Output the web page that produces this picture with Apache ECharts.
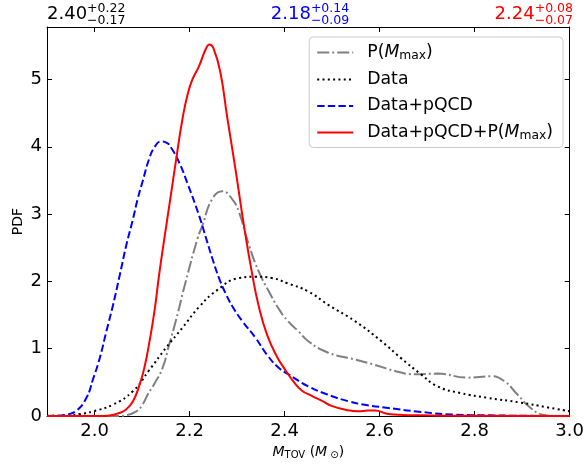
<!DOCTYPE html>
<html>
<head>
<meta charset="utf-8">
<script src="https://cdn.jsdelivr.net/npm/echarts@6/dist/echarts.min.js"></script>
<style>html,body{margin:0;padding:0;background:#fff}#c{width:587px;height:465px}</style>
</head>
<body>
<div id="c"></div>
<script>
// ---- data ----
const seriesNames = ['P(Mmax)', 'Data', 'Data+pQCD', 'Data+pQCD+P(Mmax)'];
const xTicks = [2.0, 2.2, 2.4, 2.6, 2.8, 3.0];
const yTicks = [0, 1, 2, 3, 4, 5];

const pMmax = [
 [1.9,0],[2.05,0],[2.065,0.01],[2.088,0.07],[2.101,0.17],[2.112,0.32],[2.126,0.48],[2.143,0.71],
 [2.157,1.06],[2.171,1.41],[2.192,2.0],[2.217,2.64],[2.227,2.83],[2.248,3.23],[2.269,3.34],
 [2.29,3.22],[2.304,3.03],[2.325,2.54],[2.346,2.14],[2.367,1.85],[2.387,1.60],[2.407,1.41],
 [2.429,1.26],[2.45,1.11],[2.492,0.94],[2.548,0.84],[2.59,0.76],[2.632,0.67],[2.673,0.62],
 [2.722,0.63],[2.785,0.57],[2.834,0.59],[2.862,0.52],[2.89,0.32],[2.918,0.12],[2.946,0.015],
 [2.97,0],[3.0,0]
];
const dataOnly = [
 [1.9,0.002],[1.941,0.008],[1.97,0.03],[1.997,0.07],[2.039,0.17],[2.081,0.37],[2.115,0.68],
 [2.15,1.01],[2.185,1.31],[2.22,1.62],[2.258,1.87],[2.304,2.05],[2.339,2.07],[2.373,2.05],
 [2.407,1.97],[2.45,1.85],[2.492,1.65],[2.548,1.41],[2.604,1.11],[2.645,0.86],[2.687,0.62],
 [2.722,0.44],[2.771,0.34],[2.827,0.27],[2.896,0.20],[2.952,0.13],[3.0,0.07]
];
const dataPqcd = [
 [1.9,0],[1.925,0.005],[1.941,0.02],[1.962,0.08],[1.983,0.27],[1.997,0.55],[2.011,0.86],
 [2.025,1.26],[2.039,1.65],[2.053,2.09],[2.067,2.54],[2.081,2.93],[2.091,3.23],[2.101,3.48],
 [2.115,3.82],[2.126,3.99],[2.14,4.08],[2.152,4.06],[2.161,3.99],[2.178,3.77],[2.196,3.45],
 [2.22,2.98],[2.234,2.66],[2.248,2.34],[2.262,2.05],[2.276,1.82],[2.29,1.63],[2.311,1.41],
 [2.339,1.16],[2.363,0.91],[2.387,0.72],[2.408,0.62],[2.45,0.44],[2.49,0.32],[2.534,0.22],
 [2.575,0.16],[2.618,0.12],[2.687,0.06],[2.757,0.02],[2.827,0.01],[2.9,0.003],[3.0,0]
];
const dataPqcdPm = [
 [1.9,0],[2.02,0],[2.035,0.01],[2.05,0.04],[2.065,0.09],[2.081,0.22],[2.095,0.47],[2.105,0.72],
 [2.115,1.08],[2.126,1.55],[2.136,2.1],[2.147,2.64],[2.16,3.25],[2.173,3.87],[2.185,4.41],
 [2.196,4.78],[2.206,5.0],[2.22,5.2],[2.234,5.45],[2.242,5.52],[2.251,5.45],[2.265,5.10],
 [2.279,4.45],[2.297,3.65],[2.314,2.85],[2.332,2.1],[2.346,1.62],[2.363,1.21],[2.384,0.88],
 [2.40,0.70],[2.42,0.50],[2.436,0.38],[2.457,0.30],[2.48,0.22],[2.499,0.15],[2.53,0.09],
 [2.555,0.07],[2.575,0.08],[2.59,0.08],[2.618,0.03],[2.65,0.015],[2.687,0.01],[2.75,0.003],[3.0,0]
];

// summary statistics shown above the plot
const statMedian = ['2.40', '2.18', '2.24'];
const statPlus   = ['+0.22', '+0.14', '+0.08'];
const statMinus  = ['\u22120.17', '\u22120.09', '\u22120.07'];
const statColor  = ['#000000', '#0000ff', '#ff0000'];

// ---- layout ----
const W = 587, H = 465;
const G = {left: 47, right: 14, top: 27, bottom: 47};
const FONT = '"DejaVu Sans", sans-serif';

const chart = echarts.init(document.getElementById('c'), null, {renderer: 'canvas', width: W, height: H});

const cv = document.createElement('canvas').getContext('2d');
function tw(t, size) { cv.font = size + 'px ' + FONT; return cv.measureText(t).width; }

const graphics = [];
const plotL = G.left, plotR = W - G.right, plotC = (plotL + plotR) / 2;
const mainSize = 18, smallSize = 12.5;
for (let i = 0; i < 3; i++) {
  const wm = tw(statMedian[i], mainSize);
  const ws = Math.max(tw(statPlus[i], smallSize), tw(statMinus[i], smallSize));
  const total = wm + ws;
  let x0 = i === 0 ? plotL : (i === 1 ? plotC - total / 2 : plotR - total);
  graphics.push({type: 'text', x: x0, y: 14, silent: true,
    style: {text: statMedian[i], font: mainSize + 'px ' + FONT, fill: statColor[i], verticalAlign: 'middle'}});
  graphics.push({type: 'text', x: x0 + wm, y: 8.5, silent: true,
    style: {text: statPlus[i], font: smallSize + 'px ' + FONT, fill: statColor[i], verticalAlign: 'middle'}});
  graphics.push({type: 'text', x: x0 + wm, y: 21, silent: true,
    style: {text: statMinus[i], font: smallSize + 'px ' + FONT, fill: statColor[i], verticalAlign: 'middle'}});
}

const legendRich = {
  i: {fontStyle: 'italic', fontSize: 17.3, fontFamily: FONT, color: '#000'},
  s: {fontSize: 12.3, fontFamily: FONT, color: '#000', verticalAlign: 'bottom', padding: [6, 0, 0, 0]}
};
function legendFmt(name) {
  return name.replace('Mmax', '{i|M}{s|max}');
}

const styles = [
  {color: '#808080', type: [12, 3, 2, 3], width: 2},
  {color: '#000000', type: [2, 3.3], width: 2},
  {color: '#0000ff', type: [7.4, 3.2], width: 2},
  {color: '#ff0000', type: 'solid', width: 2}
];
const seriesData = [pMmax, dataOnly, dataPqcd, dataPqcdPm];

const axisCommon = {
  axisLine: {show: true, onZero: false, lineStyle: {color: '#000', width: 1}},
  axisTick: {show: true, inside: true, length: 5, lineStyle: {color: '#000', width: 1}},
  splitLine: {show: false}
};

const option = {
  animation: false,
  backgroundColor: '#fff',
  grid: {left: G.left, right: G.right, top: G.top, bottom: G.bottom, containLabel: false},
  graphic: graphics,
  legend: {
    orient: 'vertical', right: 24, top: 37,
    data: seriesNames,
    itemWidth: 36, itemHeight: 12, itemGap: 9.5,
    padding: [7, 10, 6, 7],
    borderColor: '#cccccc', borderWidth: 1, borderRadius: 4,
    backgroundColor: 'rgba(255,255,255,0.8)',
    itemStyle: {opacity: 0},
    formatter: legendFmt,
    textStyle: {fontSize: 17.3, fontFamily: FONT, color: '#000', padding: [0, 0, 0, 9], rich: legendRich}
  },
  xAxis: [
    Object.assign({}, axisCommon, {
      type: 'value', min: 1.9, max: 3.0, position: 'bottom',
      axisTick: Object.assign({}, axisCommon.axisTick, {customValues: xTicks}),
      axisLabel: {customValues: xTicks, formatter: v => v.toFixed(1), fontSize: 18, fontFamily: FONT, color: '#000', margin: 6},
      name: '{i|M}{s|TOV} ({i|M}{s| \u2299})',
      nameLocation: 'middle', nameGap: 29, nameMoveOverlap: false,
      nameTextStyle: {fontSize: 14, fontFamily: FONT, color: '#000',
        rich: {i: {fontStyle: 'italic', fontSize: 14, fontFamily: FONT, color: '#000'},
               s: {fontSize: 10, fontFamily: FONT, color: '#000', verticalAlign: 'bottom', padding: [5, 0, 0, 0]}}}
    }),
    Object.assign({}, axisCommon, {
      type: 'value', min: 1.9, max: 3.0, position: 'top',
      axisTick: Object.assign({}, axisCommon.axisTick, {customValues: xTicks}),
      axisLabel: {show: false}
    })
  ],
  yAxis: [
    Object.assign({}, axisCommon, {
      type: 'value', min: 0, max: 5.78, position: 'left',
      axisTick: Object.assign({}, axisCommon.axisTick, {customValues: yTicks}),
      axisLabel: {customValues: yTicks, fontSize: 18, fontFamily: FONT, color: '#000', margin: 5},
      name: 'PDF', nameLocation: 'middle', nameGap: 22, nameRotate: 90, nameMoveOverlap: false,
      nameTextStyle: {fontSize: 14, fontFamily: FONT, color: '#000'}
    }),
    Object.assign({}, axisCommon, {
      type: 'value', min: 0, max: 5.78, position: 'right',
      axisTick: Object.assign({}, axisCommon.axisTick, {customValues: yTicks}),
      axisLabel: {show: false}
    })
  ],
  series: seriesNames.map((n, k) => ({
    name: n, type: 'line', data: seriesData[k],
    xAxisIndex: 0, yAxisIndex: 0,
    showSymbol: false, symbol: 'none',
    smooth: 0.5,
    lineStyle: styles[k], itemStyle: {color: styles[k].color},
    z: 2 + k
  }))
};
chart.setOption(option);
</script>
</body>
</html>
